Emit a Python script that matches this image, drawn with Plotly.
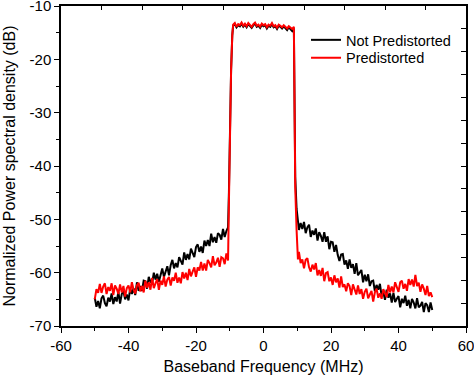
import numpy as np
import plotly.graph_objects as go

# Frequency sampling (MHz)
freq_left = np.arange(-50, -10.4, 0.5)          # -50 .. -10.5
freq_edge_l = [-10.25, -10.0, -9.6, -9.25]
freq_pass = np.arange(-9, 9.01, 0.5)            # -9 .. 9
freq_edge_r = [9.15, 9.4, 9.8, 10.2]
freq_right = np.arange(10.5, 50.01, 0.5)        # 10.5 .. 50

# Not predistorted (dB)
np_left = [-64.7, -66.4, -65.3, -66.7, -64.8, -64.3, -65.7, -66.3, -64.7, -65.4,
           -63.9, -65.9, -64.6, -65.4, -63.6, -65.8, -64.0, -63.5, -65.0, -64.1,
           -65.2, -63.0, -64.0, -62.9, -64.2, -61.8, -63.4, -62.5, -63.4, -61.5,
           -61.6, -63.0, -60.8, -61.7, -62.0, -60.0, -61.3, -60.2, -61.7, -60.1,
           -59.2, -60.8, -59.9, -58.8, -60.5, -58.6, -57.6, -59.2, -58.2, -59.0,
           -57.1, -58.0, -58.5, -56.2, -57.6, -56.5, -57.5, -55.5, -56.4, -57.1,
           -55.2, -54.7, -56.1, -55.1, -56.3, -54.0, -55.0, -53.9, -55.0, -52.7,
           -54.3, -53.3, -54.4, -52.6, -52.9, -53.8, -51.8, -53.3, -52.2, -51.5]
np_edge_l = [-45.0, -35.0, -22.0, -15.5]
np_pass = [-13.7, -13.4, -14.0, -13.6, -13.8, -13.3, -13.9, -13.5, -14.0, -13.4,
           -13.8, -14.1, -13.6, -13.3, -13.9, -13.7, -14.1, -13.5, -13.8, -13.6,
           -14.2, -13.7, -13.9, -13.4, -14.0, -13.8, -14.3, -13.7, -13.9, -14.2,
           -13.8, -14.1, -14.5, -14.0, -14.3, -14.7, -14.2]
np_edge_r = [-30.0, -42.0, -48.0, -50.5]
np_right = [-52.0, -50.7, -51.8, -50.5, -52.6, -51.5, -51.0, -53.3, -52.1, -52.9,
            -51.7, -54.0, -52.4, -53.1, -54.2, -52.4, -54.2, -53.2, -55.6, -54.2,
            -54.3, -56.1, -54.8, -56.7, -57.8, -56.6, -56.5, -58.5, -57.7, -59.3,
            -57.5, -59.1, -58.4, -60.2, -58.2, -60.5, -60.0, -59.5, -61.8, -60.4,
            -61.6, -60.3, -62.5, -61.6, -61.5, -63.5, -62.3, -63.2, -62.1, -64.4,
            -63.7, -65.1, -63.2, -64.7, -63.9, -65.6, -63.8, -65.5, -64.9, -64.4,
            -66.5, -64.9, -65.7, -64.3, -66.2, -65.1, -66.7, -64.9, -65.6, -66.7,
            -64.8, -66.5, -66.2, -65.5, -67.4, -65.7, -66.1, -67.4, -65.6, -67.0]

# Predistorted (dB)
pd_left = [-65.0, -63.1, -63.8, -62.1, -63.8, -62.6, -62.0, -64.0, -62.7, -63.4,
           -62.0, -64.2, -62.4, -63.0, -64.0, -62.2, -63.7, -62.5, -64.5, -62.9,
           -62.4, -63.7, -61.8, -63.2, -63.9, -62.4, -61.9, -63.5, -62.5, -63.7,
           -61.5, -62.8, -61.8, -63.2, -61.0, -62.9, -62.0, -61.2, -63.2, -61.5,
           -62.3, -60.7, -62.6, -61.3, -60.8, -62.4, -60.9, -61.5, -60.0, -61.9,
           -60.9, -62.0, -59.9, -61.1, -60.0, -61.4, -59.3, -60.7, -59.8, -59.0,
           -60.8, -59.0, -59.6, -58.0, -59.6, -58.3, -59.6, -57.6, -58.2, -59.0,
           -56.9, -58.6, -58.1, -57.2, -58.9, -57.1, -57.3, -58.4, -56.4, -57.7]
pd_edge_l = [-47.0, -36.0, -22.0, -15.5]
pd_pass = [-13.5, -13.2, -13.9, -13.4, -13.6, -13.1, -13.7, -13.3, -13.8, -13.2,
           -13.6, -13.9, -13.4, -13.1, -13.7, -13.5, -13.9, -13.3, -13.6, -13.4,
           -14.0, -13.5, -13.7, -13.2, -13.8, -13.6, -14.1, -13.5, -13.7, -14.0,
           -13.6, -13.9, -14.2, -13.8, -14.0, -14.3, -13.9]
pd_edge_r = [-30.0, -44.0, -52.0, -57.5]
pd_right = [-56.1, -58.2, -57.5, -59.2, -57.6, -57.3, -59.0, -59.8, -58.5, -59.4,
            -58.2, -60.5, -59.5, -60.6, -59.1, -61.6, -60.1, -59.9, -61.6, -60.9,
            -62.3, -60.5, -61.8, -61.1, -62.8, -60.7, -62.7, -62.2, -63.5, -62.0,
            -62.5, -64.2, -62.2, -63.4, -64.1, -62.4, -64.0, -63.1, -64.9, -63.6,
            -63.0, -64.8, -64.2, -63.4, -65.4, -63.7, -63.0, -64.7, -63.9, -64.9,
            -63.1, -64.0, -64.6, -62.3, -63.7, -62.6, -63.7, -61.8, -62.8, -63.6,
            -61.8, -61.5, -63.0, -62.1, -63.4, -61.2, -62.3, -61.3, -62.6, -60.4,
            -62.5, -61.9, -63.6, -62.2, -63.0, -64.2, -62.5, -64.4, -63.7, -64.6]

x_ticks = [-60, -40, -20, 0, 20, 40, 60]
x_tick_labels = ["-60", "-40", "-20", "0", "20", "40", "60"]
y_ticks = [-70, -60, -50, -40, -30, -20, -10]
y_tick_labels = ["-70", "-60", "-50", "-40", "-30", "-20", "-10"]

freq = list(freq_left) + freq_edge_l + list(freq_pass) + freq_edge_r + list(freq_right)
y_np = np_left + np_edge_l + np_pass + np_edge_r + np_right
y_pd = pd_left + pd_edge_l + pd_pass + pd_edge_r + pd_right

FONT = "Liberation Sans, Arial, sans-serif"

fig = go.Figure()
fig.add_trace(go.Scatter(x=freq, y=y_np, mode="lines", name="Not Predistorted",
                         line=dict(color="black", width=2), legend="legend"))
fig.add_trace(go.Scatter(x=freq, y=y_pd, mode="lines", name="Predistorted",
                         line=dict(color="#ff0000", width=2), legend="legend2"))
# helper trace to activate the mirrored top/right axes
fig.add_trace(go.Scatter(x=[], y=[], xaxis="x2", yaxis="y2", showlegend=False,
                         hoverinfo="skip"))

legend_common = dict(x=0.605, xanchor="left", yanchor="middle",
                     bgcolor="rgba(0,0,0,0)", font=dict(size=14.5, family=FONT),
                     itemwidth=30)

fig.update_layout(
    width=474, height=375,
    margin=dict(l=61, r=8, t=6, b=49),
    paper_bgcolor="white", plot_bgcolor="white",
    font=dict(family=FONT, color="black"),
    showlegend=True,
    legend=dict(y=0.894, **legend_common),
    legend2=dict(y=0.838, **legend_common),
    xaxis=dict(range=[-60, 60], tickvals=x_ticks, ticktext=x_tick_labels,
               ticks="outside", ticklen=5,
               tickwidth=1.3, tickcolor="black", automargin=False,
               ticklabeloverflow="allow",
               minor=dict(dtick=10, tick0=0, ticks="outside", ticklen=3,
                          tickcolor="black", tickwidth=1.3),
               showline=True, linecolor="black", linewidth=1.5,
               showgrid=False, zeroline=False, tickfont=dict(size=15),
               title=dict(text="Baseband Frequency (MHz)", font=dict(size=16),
                          standoff=8)),
    yaxis=dict(range=[-70, -10], tickvals=y_ticks, ticktext=y_tick_labels,
               ticks="outside", ticklen=5,
               tickwidth=1.3, tickcolor="black", automargin=False,
               ticklabeloverflow="allow",
               minor=dict(dtick=5, tick0=0, ticks="outside", ticklen=3,
                          tickcolor="black", tickwidth=1.3),
               showline=True, linecolor="black", linewidth=1.5,
               showgrid=False, zeroline=False, tickfont=dict(size=15),
               title=dict(text="Normalized Power spectral density (dB)",
                          font=dict(size=16), standoff=10)),
    xaxis2=dict(overlaying="x", side="top", range=[-60, 60], tick0=0, dtick=12,
                ticks="inside", ticklen=4, tickwidth=1.3, tickcolor="black",
                showticklabels=False, showline=True, linecolor="black",
                linewidth=1.5, showgrid=False, zeroline=False, automargin=False),
    yaxis2=dict(overlaying="y", side="right", range=[14, 0], tick0=0, dtick=1,
                ticks="inside", ticklen=5, tickwidth=1.3, tickcolor="black",
                showticklabels=False, showline=True, linecolor="black",
                linewidth=1.5, showgrid=False, zeroline=False, automargin=False),
)

fig.write_html("out.html",
               config={"displayModeBar": False},
               post_script="document.body.style.margin='0';"
                           "document.body.style.overflow='hidden';")
